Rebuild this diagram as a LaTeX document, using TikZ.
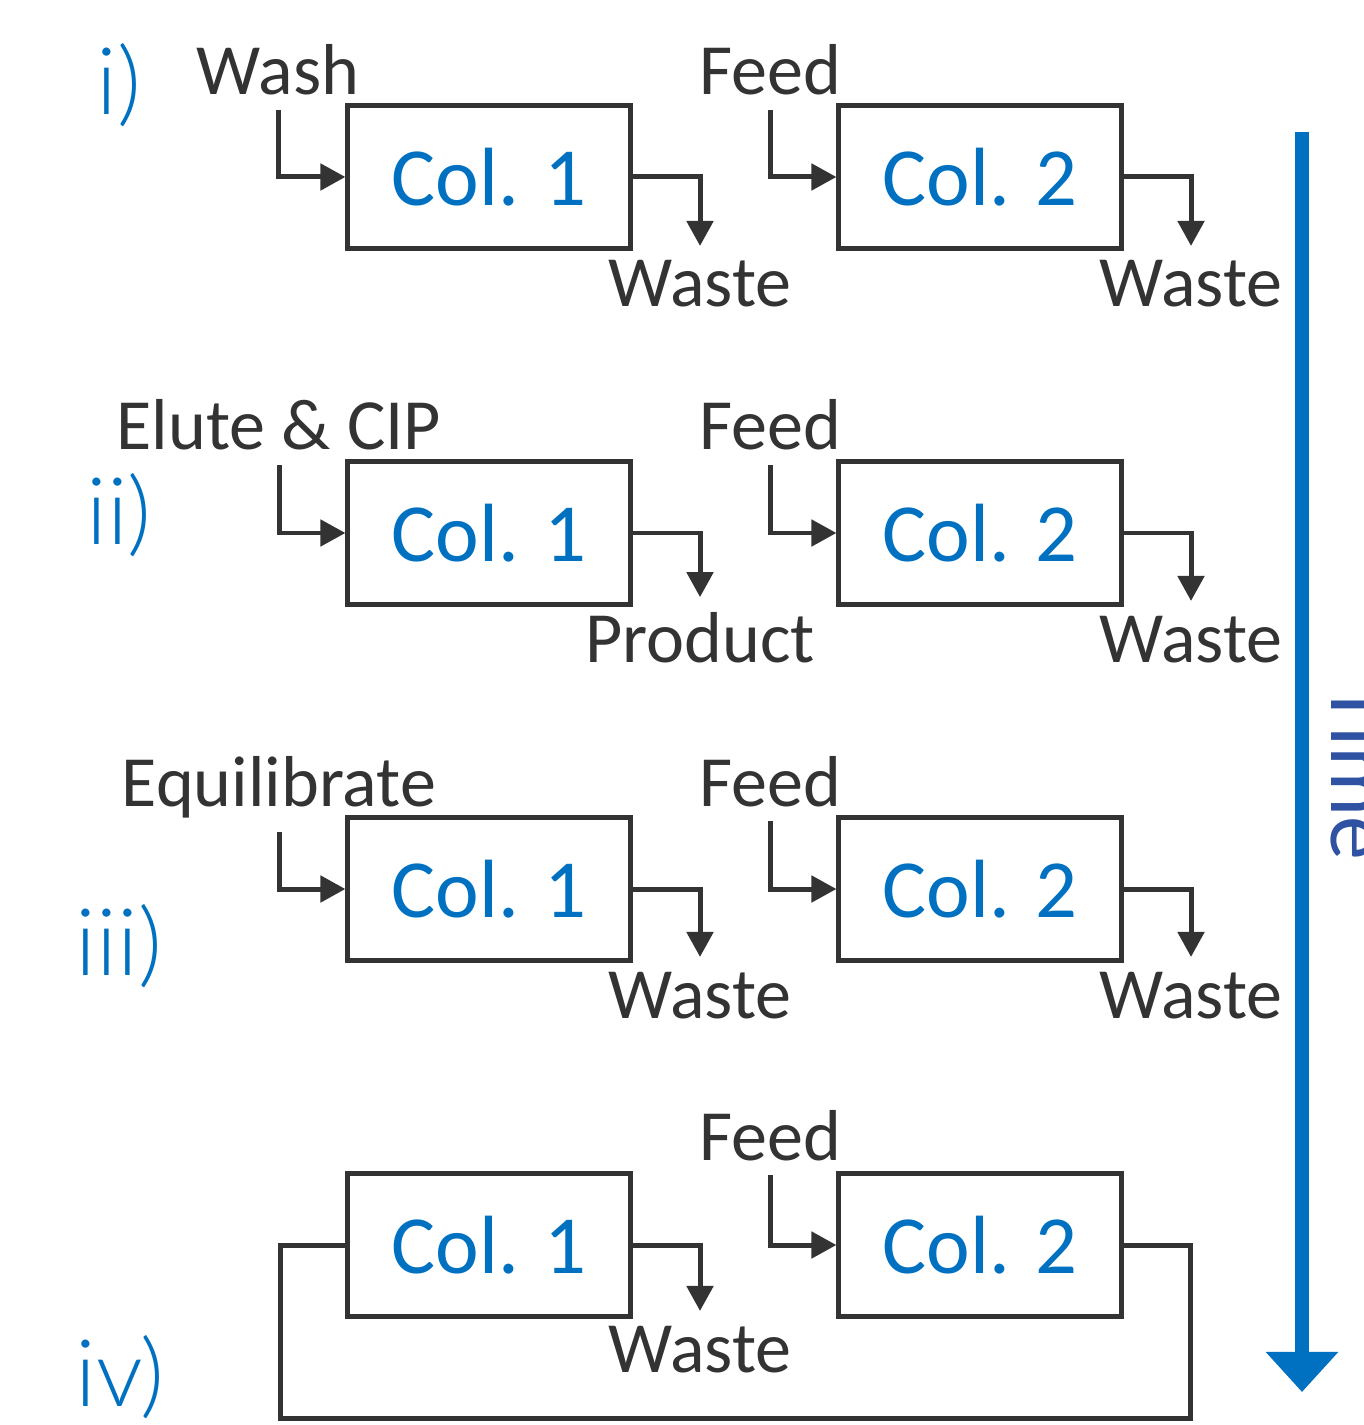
\documentclass[tikz,border=0pt]{standalone}
\usepackage{fontspec}
\setmainfont{Carlito}
\newfontfamily\thinfont{Lato Light}
\usetikzlibrary{arrows.meta,positioning}
\definecolor{colblue}{HTML}{0070C0}
\definecolor{timeblue}{RGB}{47,82,162}
\definecolor{pipe}{HTML}{333333}
\tikzset{
  colbox/.style={draw=pipe, line width=1.42pt, minimum width=2.82cm, minimum height=1.42cm, text=colblue, font=\fontsize{23.5}{28}\selectfont},
  flowlabel/.style={text=pipe, anchor=base, inner sep=4pt, font=\fontsize{20.5}{24}\selectfont},
  steplabel/.style={text=colblue, font=\thinfont\fontsize{26.5}{31}\selectfont},
  flowarrow/.style={-{Triangle[length=0.25cm,width=0.26cm]}, line width=1.42pt, draw=pipe},
  flowline/.style={line width=1.42pt, draw=pipe},
  timearrow/.style={-{Triangle[length=0.4cm,width=0.7cm]}, line width=0.14cm, draw=colblue},
}
\begin{document}
\begin{tikzpicture}[x=0.01cm, y=-0.01cm]
    \useasboundingbox (0,0) rectangle (1363,1425);
    \clip (0,0) rectangle (1363,1425);
    % step i
    \node[steplabel] (si) at (119,85) {i)};
    \node[colbox] (c1i) at (489,177) {Col. 1};
    \node[colbox] (c2i) at (980,177) {Col. 2};
    \node[flowlabel] (washi) at (278,95) {Wash};
    \node[flowlabel] (feedi) at (770,95) {Feed};
    \node[flowlabel] (w1i) at (700,307) {Waste};
    \node[flowlabel] (w2i) at (1191,307) {Waste};
    \draw[flowarrow] (washi.south) |- (c1i.west);
    \draw[flowarrow] (feedi.south) |- (c2i.west);
    \draw[flowarrow] (c1i.east) -| (w1i.north);
    \draw[flowarrow] (c2i.east) -| (w2i.north);
    % step ii
    \node[steplabel] (sii) at (119,515) {ii)};
    \node[colbox] (c1ii) at (489,533) {Col. 1};
    \node[colbox] (c2ii) at (980,533) {Col. 2};
    \node[flowlabel] (eluteii) at (279,450) {Elute \& CIP};
    \node[flowlabel] (feedii) at (770,450) {Feed};
    \node[flowlabel] (pii) at (700,662) {Product};
    \node[flowlabel] (w2ii) at (1191,662) {Waste};
    \draw[flowarrow] (eluteii.south) |- (c1ii.west);
    \draw[flowarrow] (feedii.south) |- (c2ii.west);
    \draw[flowarrow] (c1ii.east) -| (pii.north);
    \draw[flowarrow] (c2ii.east) -| (w2ii.north);
    % step iii
    \node[steplabel] (siii) at (119,946) {iii)};
    \node[colbox] (c1iii) at (489,889) {Col. 1};
    \node[colbox] (c2iii) at (980,889) {Col. 2};
    \node[flowlabel] (equiii) at (279,806) {Equilibrate};
    \node[flowlabel] (feediii) at (770,806) {Feed};
    \node[flowlabel] (w1iii) at (700,1018) {Waste};
    \node[flowlabel] (w2iii) at (1191,1018) {Waste};
    \draw[flowarrow] (equiii.south) |- (c1iii.west);
    \draw[flowarrow] (feediii.south) |- (c2iii.west);
    \draw[flowarrow] (c1iii.east) -| (w1iii.north);
    \draw[flowarrow] (c2iii.east) -| (w2iii.north);
    % step iv: Col. 2 outlet loops back into Col. 1
    \node[steplabel] (siv) at (120,1377) {iv)};
    \node[colbox] (c1iv) at (489,1245) {Col. 1};
    \node[colbox] (c2iv) at (980,1245) {Col. 2};
    \node[flowlabel] (feediv) at (770,1160) {Feed};
    \node[flowlabel] (w1iv) at (700,1372) {Waste};
    \coordinate (loopR) at (1190,1418);
    \coordinate (loopL) at (280,1418);
    \draw[flowarrow] (feediv.south) |- (c2iv.west);
    \draw[flowarrow] (c1iv.east) -| (w1iv.north);
    \draw[flowline] (c2iv.east) -| (loopR) -- (loopL) |- (c1iv.west);
    % time axis
    \coordinate (t0) at (1302,132);
    \coordinate (t1) at (1302,1392);
    \draw[timearrow] (t0) -- (t1);
    \node[anchor=base, rotate=-90, inner sep=0pt, text=timeblue, font=\fontsize{25}{30}\selectfont] (time) at (1331,772) {Time};
\end{tikzpicture}
\end{document}
